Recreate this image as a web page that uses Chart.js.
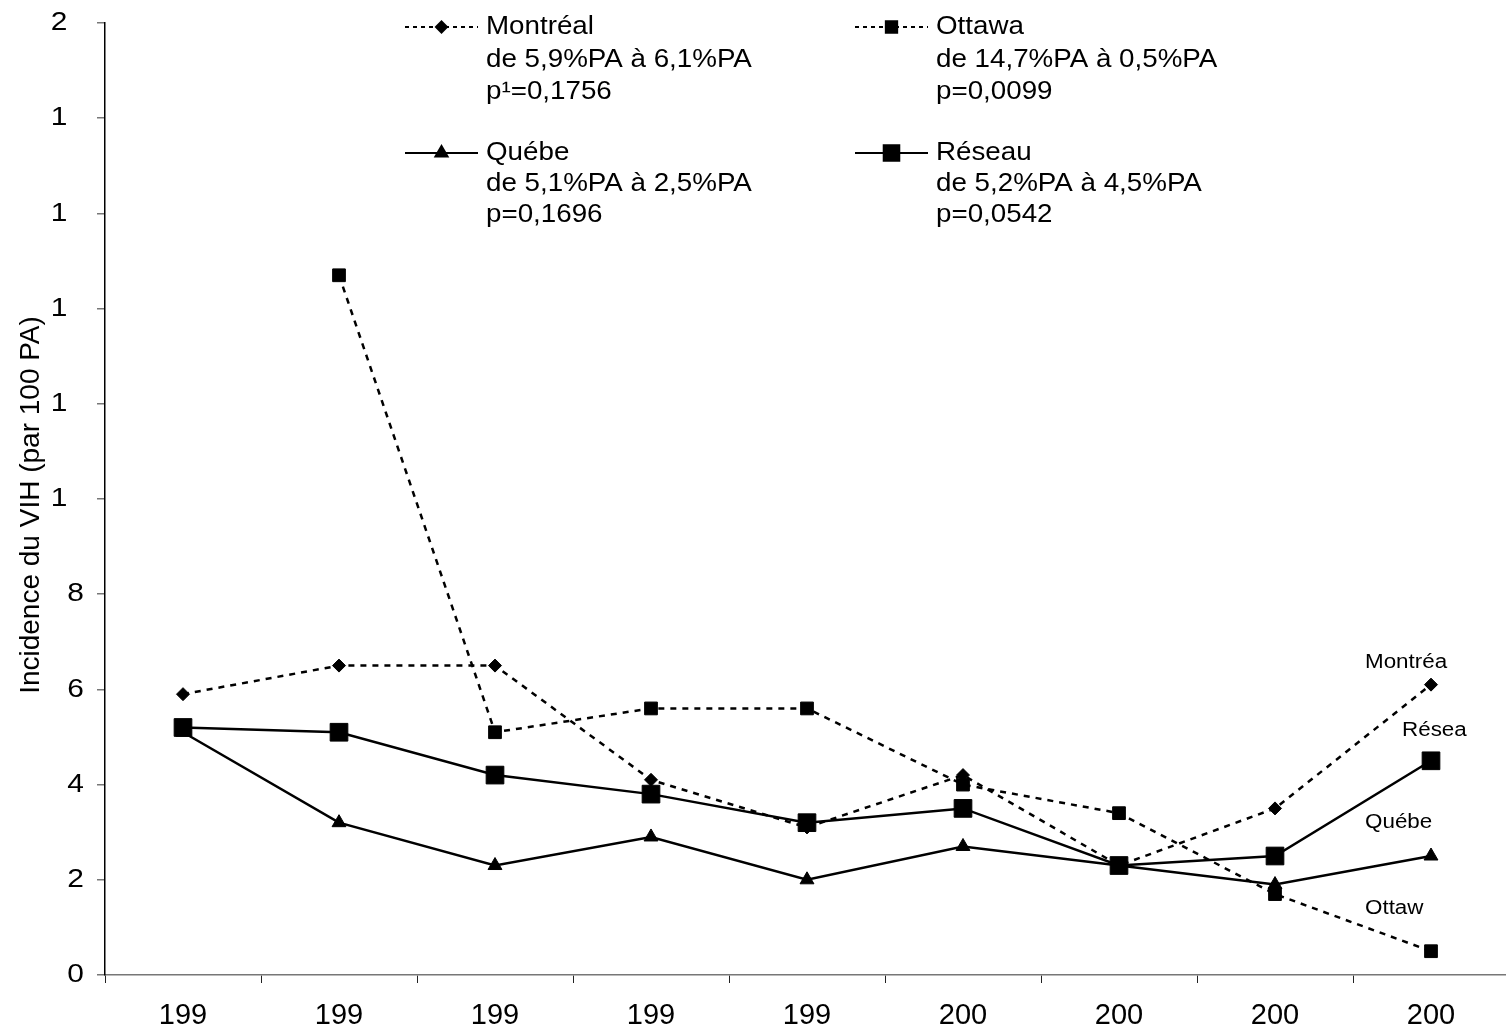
<!DOCTYPE html>
<html>
<head>
<meta charset="utf-8">
<title>Incidence du VIH</title>
<script src="https://cdn.jsdelivr.net/npm/chart.js@4.4.1/dist/chart.umd.min.js"></script>
<style>
  html, body { margin: 0; padding: 0; background: #fff; overflow: hidden; }
  #myChart { display: block; }
</style>
</head>
<body>
<canvas id="myChart" width="1509" height="1030"></canvas>
<script>
// the year labels are cut to 3 digits in the original
var xLabels = ['199', '199', '199', '199', '199', '200', '200', '200', '200'];
var yTickValues = [0, 2, 4, 6, 8, 10, 12, 14, 16, 18, 20];
var yTickLabels = ['0', '2', '4', '6', '8', '1', '1', '1', '1', '1', '2'];
var yTitle = 'Incidence du VIH (par 100 PA)';

var montreal = [5.9, 6.5, 6.5, 4.1, 3.1, 4.2, 2.3, 3.5, 6.1];
var ottawa = [null, 14.7, 5.1, 5.6, 5.6, 4.0, 3.4, 1.7, 0.5];
var quebec = [5.1, 3.2, 2.3, 2.9, 2.0, 2.7, 2.3, 1.9, 2.5];
var reseau = [5.2, 5.1, 4.2, 3.8, 3.2, 3.5, 2.3, 2.5, 4.5];

var legendMontreal = ['Montréal', 'de 5,9%PA à 6,1%PA', 'p¹=0,1756'];
var legendOttawa = ['Ottawa', 'de 14,7%PA à 0,5%PA', 'p=0,0099'];
var legendQuebec = ['Québe', 'de 5,1%PA à 2,5%PA', 'p=0,1696'];
var legendReseau = ['Réseau', 'de 5,2%PA à 4,5%PA', 'p=0,0542'];

var endLabels = ['Montréa', 'Résea', 'Québe', 'Ottaw'];

var FONT = '"Liberation Sans", Arial, sans-serif';

function putText(ctx, s, x, y, size, sx, align) {
    ctx.save();
    ctx.translate(x, y);
    ctx.scale(sx, 1);
    ctx.font = size + 'px ' + FONT;
    ctx.fillStyle = '#000';
    ctx.textAlign = align || 'left';
    ctx.textBaseline = 'middle';
    ctx.fillText(s, 0, 0);
    ctx.restore();
}

function textWidth(ctx, s, size, sx) {
    ctx.save();
    ctx.font = size + 'px ' + FONT;
    var w = ctx.measureText(s).width * sx;
    ctx.restore();
    return w;
}

function legendEntry(ctx, lines, x0, x1, rows, dashed, style, radius) {
    var y = rows[0];
    ctx.save();
    ctx.strokeStyle = '#000';
    ctx.lineWidth = 2;
    ctx.setLineDash(dashed ? [4, 4] : []);
    ctx.beginPath();
    ctx.moveTo(x0, y);
    ctx.lineTo(x1, y);
    ctx.stroke();
    ctx.setLineDash([]);
    ctx.fillStyle = '#000';
    Chart.helpers.drawPoint(ctx, {pointStyle: style, radius: radius, rotation: 0, borderWidth: 1}, (x0 + x1) / 2, y);
    ctx.restore();
    for (var i = 0; i < lines.length; i++) {
        putText(ctx, lines[i], x1 + 8, rows[i], 25, 1.11, 'left');
    }
}

var textPlugin = {
    id: 'texts',
    afterDraw: function (chart) {
        var ctx = chart.ctx;
        var xs = chart.scales.x;
        var ys = chart.scales.y;

        // x tick labels
        for (var i = 0; i < xLabels.length; i++) {
            putText(ctx, xLabels[i], xs.getPixelForValue(i), 1016, 29, 1, 'center');
        }
        // y tick labels (clipped to their first digit, laid out as the full number)
        for (var j = 0; j < yTickValues.length; j++) {
            var full = String(yTickValues[j]);
            var w = textWidth(ctx, full, 26, 1.15);
            putText(ctx, yTickLabels[j], 84 - w, ys.getPixelForValue(yTickValues[j]), 26, 1.15, 'left');
        }
        // y title
        ctx.save();
        ctx.translate(31, 505);
        ctx.rotate(-Math.PI / 2);
        ctx.font = '28px ' + FONT;
        ctx.fillStyle = '#000';
        ctx.textAlign = 'center';
        ctx.textBaseline = 'middle';
        ctx.fillText(yTitle, 0, 0);
        ctx.restore();

        // legend
        legendEntry(ctx, legendMontreal, 405, 478, [27, 60, 92], true, 'rectRot', 5.5);
        legendEntry(ctx, legendOttawa, 855, 928, [27, 60, 92], true, 'rect', 8);
        legendEntry(ctx, legendQuebec, 405, 478, [153, 184, 215], false, 'triangle', 7);
        legendEntry(ctx, legendReseau, 855, 928, [153, 184, 215], false, 'rect', 11);

        // labels next to the last points
        putText(ctx, endLabels[0], 1365, 662, 20, 1.12, 'left');
        putText(ctx, endLabels[1], 1402, 730, 20, 1.12, 'left');
        putText(ctx, endLabels[2], 1365, 822, 20, 1.12, 'left');
        putText(ctx, endLabels[3], 1365, 908, 20, 1.12, 'left');
    }
};

function series(label, data, dashed, style, radius, order) {
    return {
        label: label,
        data: data,
        borderColor: '#000',
        backgroundColor: '#000',
        borderWidth: 2.5,
        borderDash: dashed ? [6, 6] : [],
        pointStyle: style,
        pointRadius: radius,
        pointBackgroundColor: '#000',
        pointBorderColor: '#000',
        pointBorderWidth: 1,
        tension: 0,
        clip: false,
        order: order
    };
}

const ctx = document.getElementById('myChart');
new Chart(ctx, {
    type: 'line',
    data: {
        labels: xLabels,
        datasets: [
            series('Réseau', reseau, false, 'rect', 12.5, 0),
            series('Québec', quebec, false, 'triangle', 8, 1),
            series('Montréal', montreal, true, 'rectRot', 6.5, 2),
            series('Ottawa', ottawa, true, 'rect', 9, 3)
        ]
    },
    options: {
        responsive: false,
        animation: false,
        devicePixelRatio: 1,
        layout: {autoPadding: false, padding: {left: 97, top: 23, right: 0, bottom: 47}},
        plugins: {legend: {display: false}, tooltip: {enabled: false}},
        scales: {
            x: {
                offset: true,
                grid: {offset: true, drawOnChartArea: false, drawTicks: true, tickLength: 8, color: '#222', lineWidth: 1},
                border: {display: true, color: '#777', width: 1.5},
                ticks: {display: false}
            },
            y: {
                min: 0,
                max: 20,
                ticks: {display: false, stepSize: 2},
                grid: {drawOnChartArea: false, drawTicks: true, tickLength: 8, color: '#777', lineWidth: 1.5},
                border: {display: true, color: '#000', width: 1.5}
            }
        }
    },
    plugins: [textPlugin]
});
</script>
</body>
</html>
